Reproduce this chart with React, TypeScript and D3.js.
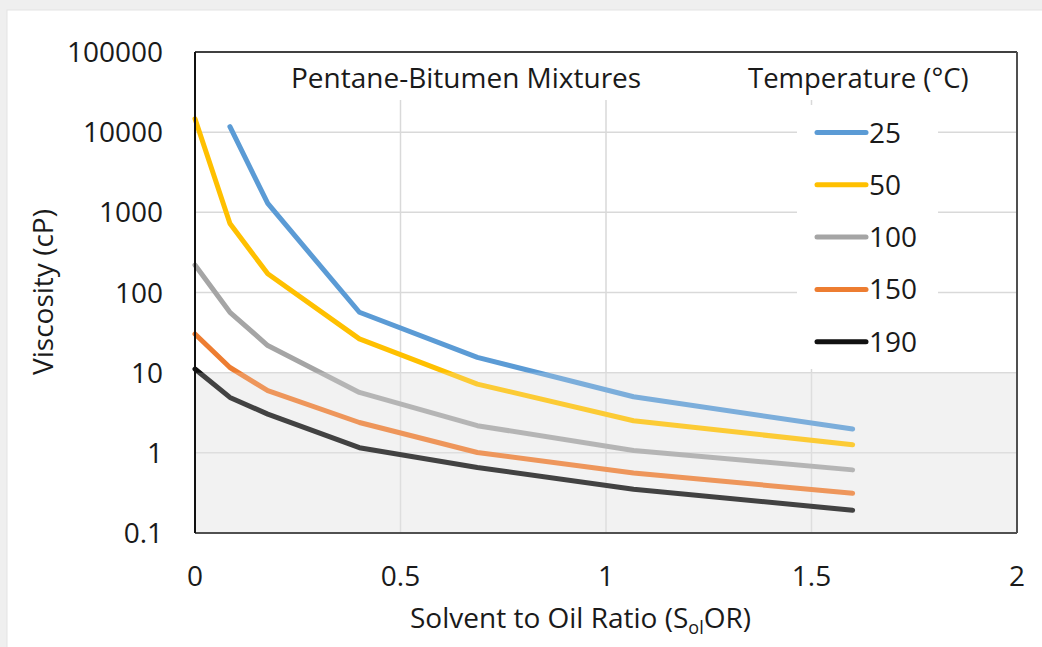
import React from "react";
import * as d3 from "d3";

const solventRatio = [0, 0.085, 0.177, 0.4, 0.687, 1.067, 1.6];
const temperatures = ["25", "50", "100", "150", "190"];
const visc25 = [null, 11700, 1290, 56.7, 15.5, 5.0, 1.98];
const visc50 = [14700, 724, 171, 26.4, 7.2, 2.51, 1.26];
const visc100 = [220, 56.7, 21.8, 5.67, 2.18, 1.07, 0.613];
const visc150 = [30.4, 11.6, 5.96, 2.39, 1.01, 0.56, 0.313];
const visc190 = [11.1, 4.91, 3.04, 1.16, 0.655, 0.352, 0.192];
const seriesColors = ["#5B9BD5", "#FFC000", "#A5A5A5", "#ED7D31", "#111111"];
const yTicks = [0.1, 1, 10, 100, 1000, 10000, 100000];
const yTickLabels = ["0.1", "1", "10", "100", "1000", "10000", "100000"];
const xTicks = [0, 0.5, 1, 1.5, 2];
const xTickLabels = ["0", "0.5", "1", "1.5", "2"];

const W = 1042;
const H = 647;
const FONT = "'Open Sans', sans-serif";
const FS = 28;

export default function App() {
  const left = 195, right = 1017, top = 52, bottom = 533;
  const x = d3.scaleLinear().domain([0, 2]).range([left, right]);
  const y = d3.scaleLog().domain([0.1, 100000]).range([bottom, top]);
  const allSeries = [visc25, visc50, visc100, visc150, visc190];
  const line = d3
    .line<[number, number | null]>()
    .defined((d) => d[1] != null)
    .x((d) => x(d[0]))
    .y((d) => y(d[1] as number));

  const legendX0 = 817, legendX1 = 866;
  const legendY0 = 132.5, legendStep = 52.3;

  return (
    <svg
      width={W}
      height={H}
      style={{ position: "absolute", left: 0, top: 0, display: "block" }}
      fontFamily={FONT}
    >
      <rect x={0} y={0} width={W} height={H} fill="#efefef" />
      <rect x={7} y={10} width={W} height={H} fill="#ffffff" stroke="#e4e4e4" strokeWidth={1} />
      {/* plot background */}
      <rect x={left} y={top} width={right - left} height={bottom - top} fill="#ffffff" />
      <rect x={left} y={y(10)} width={right - left} height={bottom - y(10)} fill="#f2f2f2" />
      {/* gridlines */}
      {yTicks.slice(1, -1).map((t) => (
        <line key={"gy" + t} x1={left} x2={right} y1={y(t)} y2={y(t)} stroke="#d9d9d9" strokeWidth={1.5} />
      ))}
      {xTicks.slice(1, -1).map((t) => (
        <line key={"gx" + t} x1={x(t)} x2={x(t)} y1={100} y2={bottom} stroke="#d9d9d9" strokeWidth={1.5} />
      ))}
      {/* legend background hides gridlines */}
      <rect x={797} y={105} width={141} height={264} fill="#ffffff" />
      {/* series */}
      {allSeries.map((s, i) => (
        <path
          key={"s" + i}
          d={line(solventRatio.map((v, j) => [v, s[j]] as [number, number | null])) || ""}
          fill="none"
          stroke={seriesColors[i]}
          strokeWidth={5}
          strokeLinecap="round"
          strokeLinejoin="round"
        />
      ))}
      {/* band overlay fades lines */}
      <rect x={left} y={y(10)} width={right - left} height={bottom - y(10)} fill="#f2f2f2" opacity={0.22} />
      {/* frame */}
      <line x1={left} x2={right} y1={top} y2={top} stroke="#404040" strokeWidth={2} />
      <line x1={right} x2={right} y1={top} y2={bottom} stroke="#505050" strokeWidth={2} />
      <line x1={left} x2={right} y1={bottom} y2={bottom} stroke="#505050" strokeWidth={2} />
      <line x1={left} x2={left} y1={top} y2={bottom} stroke="#111111" strokeWidth={2} />
      {/* y tick labels */}
      {yTicks.map((t, i) => (
        <text key={"yl" + t} x={163} y={y(t)} dy="0.36em" textAnchor="end" fontSize={FS} fill="#1a1a1a">
          {yTickLabels[i]}
        </text>
      ))}
      {/* x tick labels */}
      {xTicks.map((t, i) => (
        <text key={"xl" + t} x={x(t)} y={576} dy="0.36em" textAnchor="middle" fontSize={FS} fill="#1a1a1a">
          {xTickLabels[i]}
        </text>
      ))}
      {/* titles */}
      <text x={291} y={78} dy="0.36em" fontSize={FS} fill="#1a1a1a">Pentane-Bitumen Mixtures</text>
      <text x={748} y={78} dy="0.36em" fontSize={27.5} fill="#1a1a1a">Temperature (°C)</text>
      <text x={410} y={628} fontSize={FS} fill="#1a1a1a">
        Solvent to Oil Ratio (S
        <tspan fontSize={18} dy={6}>ol</tspan>
        <tspan dy={-6}>OR)</tspan>
      </text>
      <text transform="translate(53,292) rotate(-90)" textAnchor="middle" fontSize={FS} fill="#1a1a1a">
        Viscosity (cP)
      </text>
      {/* legend */}
      {temperatures.map((t, i) => (
        <g key={"lg" + t}>
          <line
            x1={legendX0}
            x2={legendX1}
            y1={legendY0 + i * legendStep}
            y2={legendY0 + i * legendStep}
            stroke={seriesColors[i]}
            strokeWidth={5}
            strokeLinecap="round"
          />
          <text x={869} y={legendY0 + i * legendStep} dy="0.36em" fontSize={FS} fill="#1a1a1a">
            {t}
          </text>
        </g>
      ))}
    </svg>
  );
}
